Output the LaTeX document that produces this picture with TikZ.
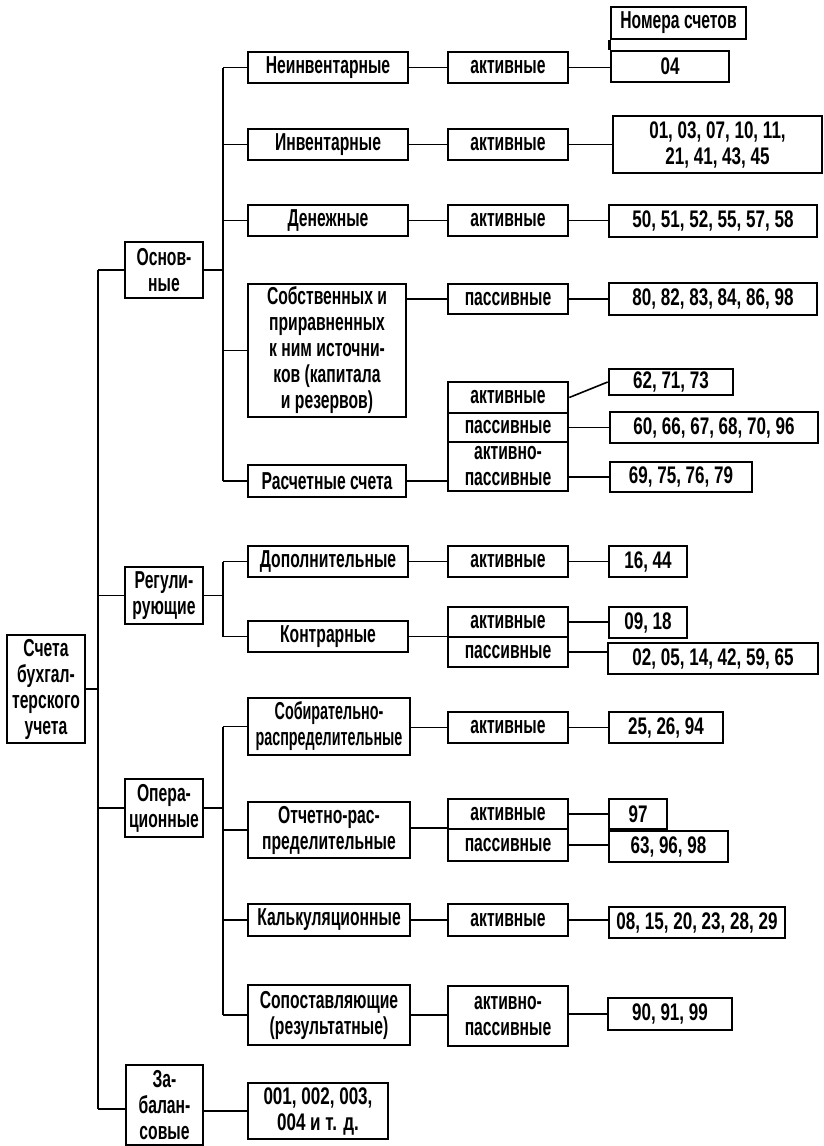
\documentclass[tikz,border=0pt]{standalone}
\usepackage{fontspec}
\setmainfont{Liberation Sans}
\newfontfamily\lfam[FakeStretch=0.64]{Liberation Sans}
\newfontfamily\nfam[FakeStretch=0.71]{Liberation Sans}
\newfontfamily\cfam[FakeStretch=0.585]{Liberation Sans}
\newcommand\mybox[7][]{\node[box,#1, minimum width={(#4)-(#2)}, minimum height={(#5)-(#3)}] (#6) at ({((#2)+(#4))/2},{((#3)+(#5))/2}) {#7};}
\begin{document}
\begin{tikzpicture}[x=1pt,y=-1pt,
  box/.style={draw, line width=2.6pt, inner sep=0pt, align=center, fill=white,
    font=\fontsize{24.5}{26}\lfam\bfseries},
  num/.style={font=\fontsize{24}{26}\nfam\bfseries},
  cond/.style={font=\fontsize{24.5}{26}\cfam\bfseries},
  conn/.style={line width=1.6pt}]
\useasboundingbox (0,0) rectangle (824,1146);
% level 0/1
\mybox{7}{635}{85}{743}{root}{Счета\\бухгал-\\терского\\учета}
\mybox{125}{242}{203}{298}{osn}{Основ-\\ные}
\mybox{125}{567}{203}{624}{reg}{Регули-\\рующие}
\mybox{125}{779}{203}{837}{oper}{Опера-\\ционные}
\mybox{126}{1065}{203}{1145}{zab}{За-\\балан-\\совые}
% level 2
\mybox{248}{52}{408}{83}{neinv}{Неинвентарные}
\mybox{248}{129}{408}{160}{inv}{Инвентарные}
\mybox{248}{205}{408}{236}{den}{Денежные}
\mybox{248}{284}{406}{417}{sob}{Собственных и\\приравненных\\к ним источни-\\ков (капитала\\и резервов)}
\mybox{248}{465}{406}{497}{ras}{Расчетные счета}
\mybox{248}{546}{408}{577}{dop}{Дополнительные}
\mybox{248}{621}{408}{652}{kon}{Контрарные}
\mybox[cond]{248}{698}{410}{755}{sobr}{Собирательно-\\распределительные}
\mybox{248}{802}{410}{858}{otch}{Отчетно-рас-\\пределительные}
\mybox{248}{904}{410}{936}{kal}{Калькуляционные}
\mybox{248}{985}{410}{1045}{sop}{Сопоставляющие\\(результатные)}
% level 3
\mybox{448}{52}{568}{83}{a1}{активные}
\mybox{448}{129}{568}{160}{a2}{активные}
\mybox{448}{205}{568}{236}{a3}{активные}
\mybox{448}{284}{568}{314}{p4}{пассивные}
\mybox{448}{382}{568}{413}{a5}{активные}
\mybox{448}{413}{568}{442}{p5}{пассивные}
\mybox{448}{442}{568}{491}{ap5}{активно-\\пассивные}
\mybox{448}{546}{568}{577}{a6}{активные}
\mybox{448}{607}{568}{637}{a7}{активные}
\mybox{448}{637}{568}{667}{p7}{пассивные}
\mybox{448}{712}{568}{743}{a8}{активные}
\mybox{448}{799}{568}{829}{a9}{активные}
\mybox{448}{829}{568}{861}{p9}{пассивные}
\mybox{448}{904}{568}{936}{a10}{активные}
\mybox{448}{986}{568}{1046}{ap11}{активно-\\пассивные}
% numbers
\mybox{611}{7}{746}{39}{nom}{Номера счетов}
\mybox[num]{611}{51}{729}{82}{n04}{04}
\mybox[num]{613}{116}{822}{173}{ninv}{01, 03, 07, 10, 11,\\21, 41, 43, 45}
\mybox[num]{609}{205}{817}{237}{nden}{50, 51, 52, 55, 57, 58}
\mybox[num]{609}{283}{817}{315}{n80}{80, 82, 83, 84, 86, 98}
\mybox[num]{609}{369}{733}{395}{n62}{62, 71, 73}
\mybox[num]{610}{412}{818}{443}{n60}{60, 66, 67, 68, 70, 96}
\mybox[num]{610}{462}{752}{492}{n69}{69, 75, 76, 79}
\mybox[num]{609}{546}{687}{577}{n16}{16, 44}
\mybox[num]{609}{607}{687}{638}{n09}{09, 18}
\mybox[num]{608}{643}{818}{674}{n02}{02, 05, 14, 42, 59, 65}
\mybox[num]{609}{712}{723}{743}{n25}{25, 26, 94}
\mybox[num]{609}{799}{667}{829}{n97}{97}
\mybox[num]{609}{831}{728}{862}{n63}{63, 96, 98}
\mybox[num]{609}{907}{785}{938}{n08}{08, 15, 20, 23, 28, 29}
\mybox[num]{608}{998}{732}{1030}{n90}{90, 91, 99}
\mybox[num]{248}{1083}{388}{1139}{n001}{001, 002, 003,\\004 и т. д.}
% coordinates of trunks
\coordinate (T) at (98,270);
\coordinate (Tb) at (98,1109);
\coordinate (S1) at (223,0);
\coordinate (S2) at (223,0);
\coordinate (S3) at (223,0);
\begin{scope}[conn]
% main trunk
\draw (T) -- (Tb);
\draw (root.east) -- (root.east -| T);
\draw (T) -- (osn.west);
\draw (reg.west -| T) -- (reg.west);
\draw (oper.west -| T) -- (oper.west);
\draw (Tb) -- (zab.west |- Tb);
% Основные
\draw (osn.east) -- (osn.east -| S1);
\draw (neinv.west -| S1) -- (ras.west -| S1);
\foreach \n in {neinv,inv,den,sob,ras} \draw (\n.west -| S1) -- (\n.west);
% Регулирующие
\draw (reg.east) -- (reg.east -| S2);
\draw (dop.west -| S2) -- (kon.west -| S2);
\foreach \n in {dop,kon} \draw (\n.west -| S2) -- (\n.west);
% Операционные
\draw (oper.east) -- (oper.east -| S3);
\draw (sobr.west -| S3) -- (sop.west -| S3);
\foreach \n in {sobr,otch,kal,sop} \draw (\n.west -| S3) -- (\n.west);
% level 2 -> 3
\draw (neinv.east) -- (a1.west);
\draw (inv.east) -- (a2.west);
\draw (den.east) -- (a3.west);
\draw (sob.east |- p4.west) -- (p4.west);
\draw (ras.east) -- (ras.east -| ap5.west);
\draw (dop.east) -- (a6.west);
\draw (kon.east) -- (kon.east -| a7.west);
\draw (sobr.east |- a8.west) -- (a8.west);
\draw (otch.east |- p9.north west) -- (p9.north west);
\draw (kal.east) -- (a10.west);
\draw (sop.east) -- (sop.east -| ap11.west);
\draw (n001.west -| zab.east) -- (n001.west);
% level 3 -> numbers
\draw (a1.east) -- (a1.east -| n04.west);
\draw (a2.east) -- (a2.east -| ninv.west);
\draw (a3.east) -- (a3.east -| nden.west);
\draw (p4.east) -- (p4.east -| n80.west);
\draw (a5.east) -- (n62.west);
\draw (p5.east) -- (p5.east -| n60.west);
\draw (ap5.east |- n69.west) -- (n69.west);
\draw (a6.east) -- (a6.east -| n16.west);
\draw (a7.east) -- (a7.east -| n09.west);
\draw (p7.east) -- (p7.east -| n02.west);
\draw (a8.east) -- (a8.east -| n25.west);
\draw (a9.east) -- (a9.east -| n97.west);
\draw (p9.east) -- (p9.east -| n63.west);
\draw (a10.east) -- (a10.east -| n08.west);
\draw (ap11.east |- n90.west) -- (n90.west);
\end{scope}
\draw[line width=2.6pt] (nom.south west) -- (n04.north west);
\end{tikzpicture}
\end{document}
